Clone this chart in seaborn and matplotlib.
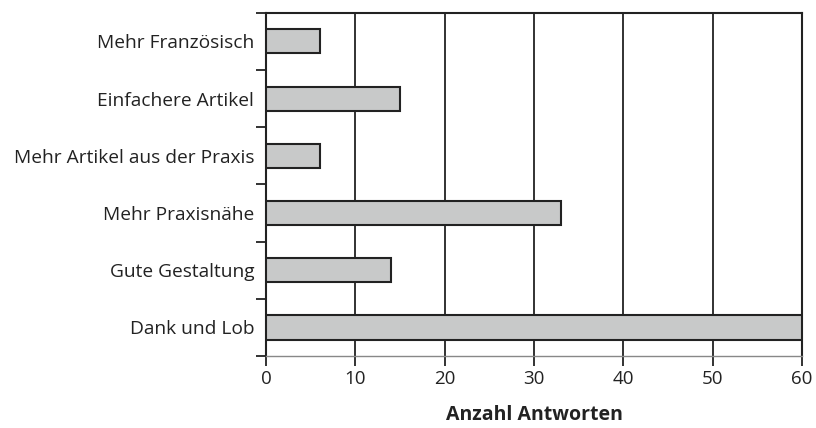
import numpy as np
import pandas as pd
import matplotlib
matplotlib.use('Agg')
import matplotlib.pyplot as plt
import seaborn as sns

categories = ['Mehr Französisch', 'Einfachere Artikel', 'Mehr Artikel aus der Praxis',
              'Mehr Praxisnähe', 'Gute Gestaltung', 'Dank und Lob']
antworten = [6, 15, 6, 33, 14, 60]
x_ticks = [0, 10, 20, 30, 40, 50, 60]

sns.set_style('white')
plt.rcParams['font.family'] = ['Open Sans', 'DejaVu Sans']

df = pd.DataFrame({'Kategorie': categories, 'Anzahl': antworten})

fig = plt.figure(figsize=(8.16, 4.28), dpi=100)
ax = fig.add_axes([0.326, 0.168, 0.657, 0.802])

sns.barplot(data=df, y='Kategorie', x='Anzahl', orient='h', ax=ax,
            color='#c8c9c9', saturation=1, width=0.42,
            edgecolor='#222222', linewidth=1.5, zorder=3)

ax.set_xlim(0, 60)
ax.set_ylim(len(categories) - 0.5, -0.5)
ax.set_xticks(x_ticks)
ax.set_xticklabels([str(t) for t in x_ticks], fontsize=13.5, color='#222222')

# vertical grid lines
for t in x_ticks[1:]:
    ax.axvline(t, color='#222222', linewidth=1.3, zorder=1)

# category labels without ticks, ticks at the boundaries
ax.set_yticks(range(len(categories)))
ax.set_yticklabels(categories, fontsize=13.8, color='#222222')
ax.set_yticks(np.arange(-0.5, len(categories), 1.0), minor=True)
ax.tick_params(axis='y', which='major', length=0, pad=8.5)
ax.tick_params(axis='y', which='minor', length=7, width=1.3, color='#222222', left=True)
ax.tick_params(axis='x', length=7, width=1.3, color='#222222', bottom=True, pad=3)

for side in ['top', 'right', 'left']:
    ax.spines[side].set_color('#222222')
    ax.spines[side].set_linewidth(1.5)
ax.spines['bottom'].set_color('#888888')
ax.spines['bottom'].set_linewidth(1.0)

ax.set_ylabel('')
ax.set_xlabel('Anzahl Antworten', fontsize=14, fontweight='bold', labelpad=12, color='#222222')

plt.savefig('out.png', dpi=100)
plt.close()
